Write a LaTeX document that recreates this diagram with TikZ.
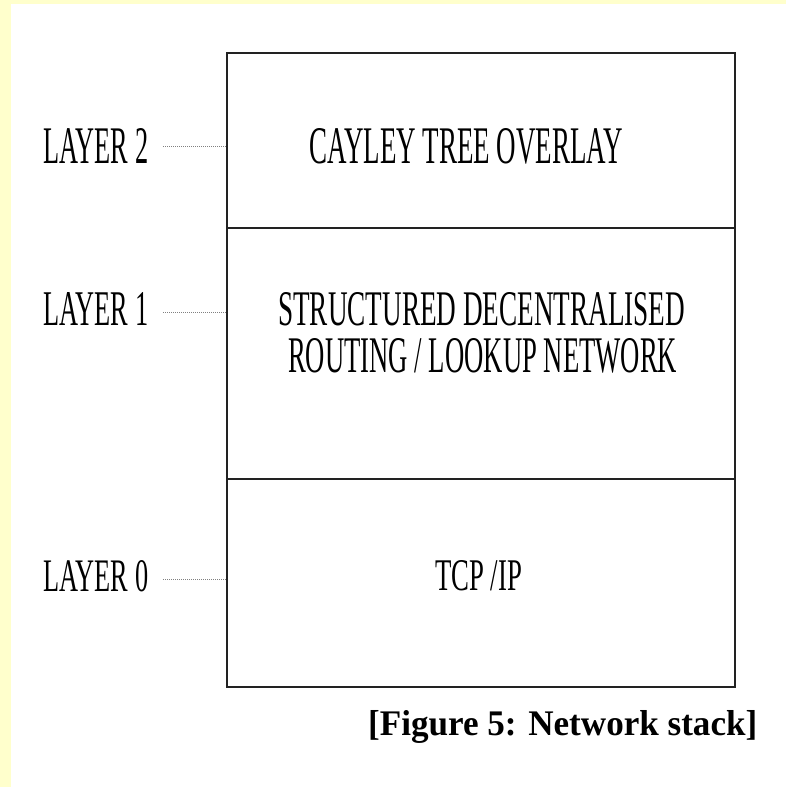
\documentclass[tikz,border=0pt]{standalone}
\usepackage{fontspec}
\setmainfont{Liberation Serif}
\usepackage{graphicx}
\definecolor{pageyellow}{HTML}{FFFFCC}
\definecolor{boxline}{HTML}{222222}
\begin{document}
\begin{tikzpicture}[x=1pt,y=-1pt,
  layerbox/.style={draw=boxline,line width=2.3pt,minimum width=508pt,inner sep=0pt,anchor=north west},
  lbl/.style={inner sep=0pt,anchor=base west,text=black,text depth=0pt},
  dotline/.style={draw=gray,line width=1pt,dash pattern=on 1pt off 1pt,shorten <=15pt}]
\useasboundingbox (0,0) rectangle (786,787);
\fill[white] (0,0) rectangle (786,787);
\fill[pageyellow] (0,0) rectangle (11,787);
\fill[pageyellow] (0,0) rectangle (786,4);
% layer boxes
\node[layerbox,minimum height=175pt] (b2) at (226,52) {};
\node[layerbox,minimum height=251pt] (b1) at (226,227) {};
\node[layerbox,minimum height=208pt] (b0) at (226,478) {};
% box texts
\node[lbl] (t2) at (309,163) {\resizebox{314pt}{35pt}{CAYLEY TREE OVERLAY}};
\node[lbl] (t1a) at (278,325) {\resizebox{407pt}{33pt}{STRUCTURED DECENTRALISED}};
\node[lbl] (t1b) at (288,372) {\resizebox{389pt}{34pt}{ROUTING / LOOKUP NETWORK}};
\node[lbl] (t0) at (435,590) {\resizebox{87pt}{30pt}{TCP /IP}};
% layer labels
\node[lbl] (l2) at (43,163) {\resizebox{105pt}{35pt}{LAYER 2}};
\node[lbl] (l1) at (43,325) {\resizebox{105pt}{33pt}{LAYER 1}};
\node[lbl] (l0) at (43,591) {\resizebox{105pt}{31pt}{LAYER 0}};
% dotted connectors
\coordinate (c2) at ([yshift=-1pt]l2.east);
\coordinate (c1) at ([yshift=-4pt]l1.east);
\coordinate (c0) at ([yshift=-4pt]l0.east);
\draw[dotline] (c2) -- (c2 -| b2.west);
\draw[dotline] (c1) -- (c1 -| b1.west);
\draw[dotline] (c0) -- (c0 -| b0.west);
% caption
\node[lbl] (cap) at (368,735) {\resizebox{389pt}{25pt}{\bfseries [Figure 5: Network stack]}};
\end{tikzpicture}
\end{document}
